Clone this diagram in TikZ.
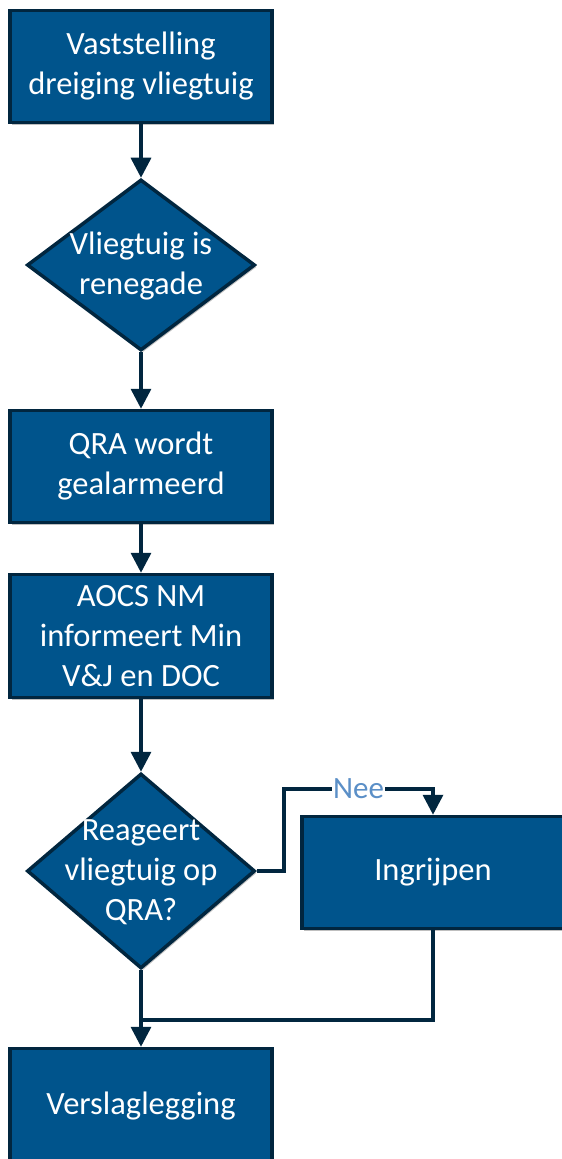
\documentclass[tikz,border=0pt]{standalone}
\usepackage{fontspec}
\setmainfont{Carlito}
\usepackage{xcolor}
\usetikzlibrary{positioning, shapes.geometric, arrows.meta, shadows}

\definecolor{rijkblauw}{HTML}{00548C}
\definecolor{donkerblauw}{HTML}{01263F}
\definecolor{neeblauw}{HTML}{5B8FC7}

\begin{document}
\begin{tikzpicture}[x=1pt, y=-1pt,
    stap/.style={draw=donkerblauw, line width=3.5pt, fill=rijkblauw, text=white, rectangle, minimum width=262pt, minimum height=112pt, align=center, font=\fontsize{32.5}{40}\selectfont, drop shadow={shadow xshift=2pt, shadow yshift=-2pt, opacity=0.25, fill=black}},
    keuze/.style={draw=donkerblauw, line width=3.5pt, fill=rijkblauw, diamond, minimum width=228pt, minimum height=171pt, inner sep=0pt, drop shadow={shadow xshift=2pt, shadow yshift=-2pt, opacity=0.25, fill=black}},
    keuzetekst/.style={text=white, align=center, font=\fontsize{32.5}{40}\selectfont},
    lijn/.style={draw=donkerblauw, line width=3.5pt},
    pijl/.style={lijn, -{Triangle[width=20pt, length=20pt]}}]
    \useasboundingbox (0,0) rectangle (562,1159);
    \node[stap] (vaststelling) at (141,66.5) {Vaststelling\\dreiging vliegtuig};
    \node[keuze] (renegade) at (141,265) {};
    \node[keuzetekst] (renegadetekst) at (141,266) {Vliegtuig is\\renegade};
    \node[stap] (qra) at (141,466.5) {QRA wordt\\gealarmeerd};
    \node[stap, minimum height=123pt] (aocs) at (141,636) {AOCS NM\\informeert Min\\V\&J en DOC};
    \node[keuze, minimum height=195pt] (reageert) at (141,871) {};
    \node[keuzetekst] (reageerttekst) at (141,872) {Reageert\\vliegtuig op\\QRA?};
    \node[stap] (ingrijpen) at (433,872.5) {Ingrijpen};
    \node[stap, minimum height=115pt] (verslag) at (141,1106) {Verslaglegging};
    \coordinate (neehoek) at (284,789);
    \coordinate (samen) at (141,1020);
    \draw[pijl] (vaststelling) -- (renegade);
    \draw[pijl] (renegade) -- (qra);
    \draw[pijl] (qra) -- (aocs);
    \draw[pijl] (aocs) -- (reageert);
    \draw[pijl] (reageert.east) -| (neehoek) -| node[pos=0.25, fill=white, text=neeblauw, inner sep=1pt, font=\fontsize{31}{36}\selectfont] (nee) {Nee} (ingrijpen);
    \draw[lijn] (ingrijpen) |- (samen);
    \draw[pijl] (reageert) -- (verslag);
\end{tikzpicture}
\end{document}
